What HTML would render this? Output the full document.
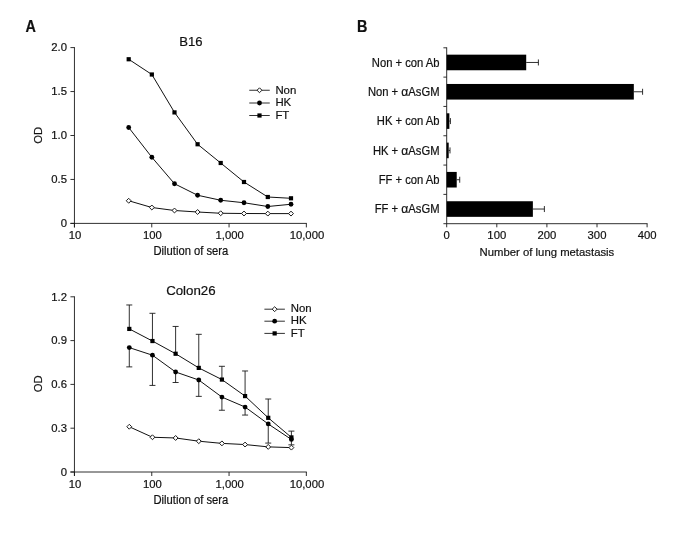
<!DOCTYPE html>
<html><head><meta charset="utf-8"><title>Figure</title>
<style>
html,body{margin:0;padding:0;background:#fff;}
svg{display:block;font-family:"Liberation Sans",sans-serif;fill:#111;}
text{stroke:#111;stroke-width:0.2px;}
</style></head><body>
<svg width="684" height="533" viewBox="0 0 684 533">
<rect width="684" height="533" fill="#fff"/>
<text x="25.40" y="31.70" font-size="16.4" text-anchor="start" font-weight="bold" textLength="10.4" lengthAdjust="spacingAndGlyphs">A</text>
<text x="357.10" y="31.70" font-size="16.4" text-anchor="start" font-weight="bold" textLength="10.4" lengthAdjust="spacingAndGlyphs">B</text>
<line x1="74.45" y1="47.15" x2="74.45" y2="227.40" stroke="#1a1a1a" stroke-width="0.9"/>
<line x1="70.45" y1="223.40" x2="306.80" y2="223.40" stroke="#1a1a1a" stroke-width="0.9"/>
<line x1="70.45" y1="223.40" x2="74.45" y2="223.40" stroke="#1a1a1a" stroke-width="0.9"/>
<text x="67.05" y="227.10" font-size="11.3" text-anchor="end" font-weight="normal" >0</text>
<line x1="70.45" y1="179.45" x2="74.45" y2="179.45" stroke="#1a1a1a" stroke-width="0.9"/>
<text x="67.05" y="183.15" font-size="11.3" text-anchor="end" font-weight="normal" >0.5</text>
<line x1="70.45" y1="135.50" x2="74.45" y2="135.50" stroke="#1a1a1a" stroke-width="0.9"/>
<text x="67.05" y="139.20" font-size="11.3" text-anchor="end" font-weight="normal" >1.0</text>
<line x1="70.45" y1="91.55" x2="74.45" y2="91.55" stroke="#1a1a1a" stroke-width="0.9"/>
<text x="67.05" y="95.25" font-size="11.3" text-anchor="end" font-weight="normal" >1.5</text>
<line x1="70.45" y1="47.60" x2="74.45" y2="47.60" stroke="#1a1a1a" stroke-width="0.9"/>
<text x="67.05" y="51.30" font-size="11.3" text-anchor="end" font-weight="normal" >2.0</text>
<line x1="74.45" y1="223.40" x2="74.45" y2="227.40" stroke="#1a1a1a" stroke-width="0.9"/>
<text x="75.05" y="238.70" font-size="11.3" text-anchor="middle" font-weight="normal" >10</text>
<line x1="151.75" y1="223.40" x2="151.75" y2="227.40" stroke="#1a1a1a" stroke-width="0.9"/>
<text x="152.35" y="238.70" font-size="11.3" text-anchor="middle" font-weight="normal" >100</text>
<line x1="229.05" y1="223.40" x2="229.05" y2="227.40" stroke="#1a1a1a" stroke-width="0.9"/>
<text x="229.65" y="238.70" font-size="11.3" text-anchor="middle" font-weight="normal" >1,000</text>
<line x1="306.35" y1="223.40" x2="306.35" y2="227.40" stroke="#1a1a1a" stroke-width="0.9"/>
<text x="306.95" y="238.70" font-size="11.3" text-anchor="middle" font-weight="normal" >10,000</text>
<polyline fill="none" stroke="#111" stroke-width="1.0" points="128.70,59.25 151.85,74.50 174.50,112.40 197.60,144.25 220.70,163.00 244.00,182.00 267.80,197.00 291.00,198.30"/>
<polyline fill="none" stroke="#111" stroke-width="1.0" points="128.70,127.50 151.85,157.25 174.50,183.75 197.60,195.25 220.70,200.25 244.00,202.75 267.80,206.50 291.00,204.25"/>
<polyline fill="none" stroke="#111" stroke-width="1.0" points="128.70,200.75 151.85,207.50 174.50,210.50 197.60,212.00 220.70,213.25 244.00,213.50 267.80,213.60 291.00,213.60"/>
<rect x="126.60" y="57.15" width="4.2" height="4.2" fill="#000"/>
<rect x="149.75" y="72.40" width="4.2" height="4.2" fill="#000"/>
<rect x="172.40" y="110.30" width="4.2" height="4.2" fill="#000"/>
<rect x="195.50" y="142.15" width="4.2" height="4.2" fill="#000"/>
<rect x="218.60" y="160.90" width="4.2" height="4.2" fill="#000"/>
<rect x="241.90" y="179.90" width="4.2" height="4.2" fill="#000"/>
<rect x="265.70" y="194.90" width="4.2" height="4.2" fill="#000"/>
<rect x="288.90" y="196.20" width="4.2" height="4.2" fill="#000"/>
<circle cx="128.70" cy="127.50" r="2.4" fill="#000"/>
<circle cx="151.85" cy="157.25" r="2.4" fill="#000"/>
<circle cx="174.50" cy="183.75" r="2.4" fill="#000"/>
<circle cx="197.60" cy="195.25" r="2.4" fill="#000"/>
<circle cx="220.70" cy="200.25" r="2.4" fill="#000"/>
<circle cx="244.00" cy="202.75" r="2.4" fill="#000"/>
<circle cx="267.80" cy="206.50" r="2.4" fill="#000"/>
<circle cx="291.00" cy="204.25" r="2.4" fill="#000"/>
<polygon points="126.25,200.75 128.70,198.30 131.15,200.75 128.70,203.20" fill="#fff" stroke="#1a1a1a" stroke-width="1.0" stroke-linejoin="round"/>
<polygon points="149.40,207.50 151.85,205.05 154.30,207.50 151.85,209.95" fill="#fff" stroke="#1a1a1a" stroke-width="1.0" stroke-linejoin="round"/>
<polygon points="172.05,210.50 174.50,208.05 176.95,210.50 174.50,212.95" fill="#fff" stroke="#1a1a1a" stroke-width="1.0" stroke-linejoin="round"/>
<polygon points="195.15,212.00 197.60,209.55 200.05,212.00 197.60,214.45" fill="#fff" stroke="#1a1a1a" stroke-width="1.0" stroke-linejoin="round"/>
<polygon points="218.25,213.25 220.70,210.80 223.15,213.25 220.70,215.70" fill="#fff" stroke="#1a1a1a" stroke-width="1.0" stroke-linejoin="round"/>
<polygon points="241.55,213.50 244.00,211.05 246.45,213.50 244.00,215.95" fill="#fff" stroke="#1a1a1a" stroke-width="1.0" stroke-linejoin="round"/>
<polygon points="265.35,213.60 267.80,211.15 270.25,213.60 267.80,216.05" fill="#fff" stroke="#1a1a1a" stroke-width="1.0" stroke-linejoin="round"/>
<polygon points="288.55,213.60 291.00,211.15 293.45,213.60 291.00,216.05" fill="#fff" stroke="#1a1a1a" stroke-width="1.0" stroke-linejoin="round"/>
<text x="190.90" y="46.00" font-size="13.1" text-anchor="middle" font-weight="normal" >B16</text>
<text transform="translate(190.90,255.10) scale(0.944,1)" font-size="11.9" text-anchor="middle">Dilution of sera</text>
<text transform="translate(41.55,135.35) rotate(-90)" font-size="11.3" text-anchor="middle">OD</text>
<line x1="249.25" y1="90.25" x2="269.75" y2="90.25" stroke="#1a1a1a" stroke-width="0.9"/>
<polygon points="257.05,90.25 259.50,87.80 261.95,90.25 259.50,92.70" fill="#fff" stroke="#1a1a1a" stroke-width="1.0" stroke-linejoin="round"/>
<text x="275.40" y="93.55" font-size="11.4" text-anchor="start" font-weight="normal" >Non</text>
<line x1="249.25" y1="103.00" x2="269.75" y2="103.00" stroke="#1a1a1a" stroke-width="0.9"/>
<circle cx="259.50" cy="103.00" r="2.4" fill="#000"/>
<text x="275.40" y="106.30" font-size="11.4" text-anchor="start" font-weight="normal" >HK</text>
<line x1="249.25" y1="115.50" x2="269.75" y2="115.50" stroke="#1a1a1a" stroke-width="0.9"/>
<rect x="257.40" y="113.40" width="4.2" height="4.2" fill="#000"/>
<text x="275.40" y="118.80" font-size="11.4" text-anchor="start" font-weight="normal" >FT</text>
<line x1="74.45" y1="296.35" x2="74.45" y2="476.00" stroke="#1a1a1a" stroke-width="0.9"/>
<line x1="70.45" y1="472.00" x2="306.80" y2="472.00" stroke="#1a1a1a" stroke-width="0.9"/>
<line x1="70.45" y1="472.00" x2="74.45" y2="472.00" stroke="#1a1a1a" stroke-width="0.9"/>
<text x="67.05" y="475.80" font-size="11.3" text-anchor="end" font-weight="normal" >0</text>
<line x1="70.45" y1="428.20" x2="74.45" y2="428.20" stroke="#1a1a1a" stroke-width="0.9"/>
<text x="67.05" y="432.00" font-size="11.3" text-anchor="end" font-weight="normal" >0.3</text>
<line x1="70.45" y1="384.40" x2="74.45" y2="384.40" stroke="#1a1a1a" stroke-width="0.9"/>
<text x="67.05" y="388.20" font-size="11.3" text-anchor="end" font-weight="normal" >0.6</text>
<line x1="70.45" y1="340.60" x2="74.45" y2="340.60" stroke="#1a1a1a" stroke-width="0.9"/>
<text x="67.05" y="344.40" font-size="11.3" text-anchor="end" font-weight="normal" >0.9</text>
<line x1="70.45" y1="296.80" x2="74.45" y2="296.80" stroke="#1a1a1a" stroke-width="0.9"/>
<text x="67.05" y="300.60" font-size="11.3" text-anchor="end" font-weight="normal" >1.2</text>
<line x1="74.45" y1="472.00" x2="74.45" y2="476.00" stroke="#1a1a1a" stroke-width="0.9"/>
<text x="75.05" y="487.70" font-size="11.3" text-anchor="middle" font-weight="normal" >10</text>
<line x1="151.75" y1="472.00" x2="151.75" y2="476.00" stroke="#1a1a1a" stroke-width="0.9"/>
<text x="152.35" y="487.70" font-size="11.3" text-anchor="middle" font-weight="normal" >100</text>
<line x1="229.05" y1="472.00" x2="229.05" y2="476.00" stroke="#1a1a1a" stroke-width="0.9"/>
<text x="229.65" y="487.70" font-size="11.3" text-anchor="middle" font-weight="normal" >1,000</text>
<line x1="306.35" y1="472.00" x2="306.35" y2="476.00" stroke="#1a1a1a" stroke-width="0.9"/>
<text x="306.95" y="487.70" font-size="11.3" text-anchor="middle" font-weight="normal" >10,000</text>
<line x1="129.29" y1="328.92" x2="129.29" y2="304.98" stroke="#1a1a1a" stroke-width="0.9"/>
<line x1="126.29" y1="304.98" x2="132.29" y2="304.98" stroke="#1a1a1a" stroke-width="0.9"/>
<line x1="152.45" y1="341.04" x2="152.45" y2="313.30" stroke="#1a1a1a" stroke-width="0.9"/>
<line x1="149.45" y1="313.30" x2="155.45" y2="313.30" stroke="#1a1a1a" stroke-width="0.9"/>
<line x1="175.61" y1="353.74" x2="175.61" y2="326.44" stroke="#1a1a1a" stroke-width="0.9"/>
<line x1="172.61" y1="326.44" x2="178.61" y2="326.44" stroke="#1a1a1a" stroke-width="0.9"/>
<line x1="198.77" y1="367.90" x2="198.77" y2="334.32" stroke="#1a1a1a" stroke-width="0.9"/>
<line x1="195.77" y1="334.32" x2="201.77" y2="334.32" stroke="#1a1a1a" stroke-width="0.9"/>
<line x1="221.92" y1="379.58" x2="221.92" y2="366.30" stroke="#1a1a1a" stroke-width="0.9"/>
<line x1="218.92" y1="366.30" x2="224.92" y2="366.30" stroke="#1a1a1a" stroke-width="0.9"/>
<line x1="245.08" y1="396.08" x2="245.08" y2="370.97" stroke="#1a1a1a" stroke-width="0.9"/>
<line x1="242.08" y1="370.97" x2="248.08" y2="370.97" stroke="#1a1a1a" stroke-width="0.9"/>
<line x1="268.24" y1="417.83" x2="268.24" y2="399.00" stroke="#1a1a1a" stroke-width="0.9"/>
<line x1="265.24" y1="399.00" x2="271.24" y2="399.00" stroke="#1a1a1a" stroke-width="0.9"/>
<line x1="291.40" y1="437.40" x2="291.40" y2="431.12" stroke="#1a1a1a" stroke-width="0.9"/>
<line x1="288.40" y1="431.12" x2="294.40" y2="431.12" stroke="#1a1a1a" stroke-width="0.9"/>
<line x1="129.29" y1="347.61" x2="129.29" y2="366.88" stroke="#1a1a1a" stroke-width="0.9"/>
<line x1="126.29" y1="366.88" x2="132.29" y2="366.88" stroke="#1a1a1a" stroke-width="0.9"/>
<line x1="152.45" y1="355.20" x2="152.45" y2="385.42" stroke="#1a1a1a" stroke-width="0.9"/>
<line x1="149.45" y1="385.42" x2="155.45" y2="385.42" stroke="#1a1a1a" stroke-width="0.9"/>
<line x1="175.61" y1="371.99" x2="175.61" y2="382.50" stroke="#1a1a1a" stroke-width="0.9"/>
<line x1="172.61" y1="382.50" x2="178.61" y2="382.50" stroke="#1a1a1a" stroke-width="0.9"/>
<line x1="198.77" y1="380.02" x2="198.77" y2="396.37" stroke="#1a1a1a" stroke-width="0.9"/>
<line x1="195.77" y1="396.37" x2="201.77" y2="396.37" stroke="#1a1a1a" stroke-width="0.9"/>
<line x1="221.92" y1="397.10" x2="221.92" y2="410.24" stroke="#1a1a1a" stroke-width="0.9"/>
<line x1="218.92" y1="410.24" x2="224.92" y2="410.24" stroke="#1a1a1a" stroke-width="0.9"/>
<line x1="245.08" y1="407.03" x2="245.08" y2="415.06" stroke="#1a1a1a" stroke-width="0.9"/>
<line x1="242.08" y1="415.06" x2="248.08" y2="415.06" stroke="#1a1a1a" stroke-width="0.9"/>
<line x1="268.24" y1="423.97" x2="268.24" y2="443.09" stroke="#1a1a1a" stroke-width="0.9"/>
<line x1="265.24" y1="443.09" x2="271.24" y2="443.09" stroke="#1a1a1a" stroke-width="0.9"/>
<line x1="291.40" y1="439.44" x2="291.40" y2="444.84" stroke="#1a1a1a" stroke-width="0.9"/>
<line x1="288.40" y1="444.84" x2="294.40" y2="444.84" stroke="#1a1a1a" stroke-width="0.9"/>
<polyline fill="none" stroke="#111" stroke-width="1.0" points="129.29,328.92 152.45,341.04 175.61,353.74 198.77,367.90 221.92,379.58 245.08,396.08 268.24,417.83 291.40,437.40"/>
<polyline fill="none" stroke="#111" stroke-width="1.0" points="129.29,347.61 152.45,355.20 175.61,371.99 198.77,380.02 221.92,397.10 245.08,407.03 268.24,423.97 291.40,439.44"/>
<polyline fill="none" stroke="#111" stroke-width="1.0" points="129.29,426.74 152.45,437.25 175.61,437.98 198.77,441.19 221.92,443.38 245.08,444.55 268.24,446.89 291.40,447.62"/>
<rect x="127.19" y="326.82" width="4.2" height="4.2" fill="#000"/>
<rect x="150.35" y="338.94" width="4.2" height="4.2" fill="#000"/>
<rect x="173.51" y="351.64" width="4.2" height="4.2" fill="#000"/>
<rect x="196.67" y="365.80" width="4.2" height="4.2" fill="#000"/>
<rect x="219.82" y="377.48" width="4.2" height="4.2" fill="#000"/>
<rect x="242.98" y="393.98" width="4.2" height="4.2" fill="#000"/>
<rect x="266.14" y="415.73" width="4.2" height="4.2" fill="#000"/>
<rect x="289.30" y="435.30" width="4.2" height="4.2" fill="#000"/>
<circle cx="129.29" cy="347.61" r="2.4" fill="#000"/>
<circle cx="152.45" cy="355.20" r="2.4" fill="#000"/>
<circle cx="175.61" cy="371.99" r="2.4" fill="#000"/>
<circle cx="198.77" cy="380.02" r="2.4" fill="#000"/>
<circle cx="221.92" cy="397.10" r="2.4" fill="#000"/>
<circle cx="245.08" cy="407.03" r="2.4" fill="#000"/>
<circle cx="268.24" cy="423.97" r="2.4" fill="#000"/>
<circle cx="291.40" cy="439.44" r="2.4" fill="#000"/>
<polygon points="126.84,426.74 129.29,424.29 131.74,426.74 129.29,429.19" fill="#fff" stroke="#1a1a1a" stroke-width="1.0" stroke-linejoin="round"/>
<polygon points="150.00,437.25 152.45,434.80 154.90,437.25 152.45,439.70" fill="#fff" stroke="#1a1a1a" stroke-width="1.0" stroke-linejoin="round"/>
<polygon points="173.16,437.98 175.61,435.53 178.06,437.98 175.61,440.43" fill="#fff" stroke="#1a1a1a" stroke-width="1.0" stroke-linejoin="round"/>
<polygon points="196.32,441.19 198.77,438.74 201.22,441.19 198.77,443.64" fill="#fff" stroke="#1a1a1a" stroke-width="1.0" stroke-linejoin="round"/>
<polygon points="219.47,443.38 221.92,440.93 224.37,443.38 221.92,445.83" fill="#fff" stroke="#1a1a1a" stroke-width="1.0" stroke-linejoin="round"/>
<polygon points="242.63,444.55 245.08,442.10 247.53,444.55 245.08,447.00" fill="#fff" stroke="#1a1a1a" stroke-width="1.0" stroke-linejoin="round"/>
<polygon points="265.79,446.89 268.24,444.44 270.69,446.89 268.24,449.34" fill="#fff" stroke="#1a1a1a" stroke-width="1.0" stroke-linejoin="round"/>
<polygon points="288.95,447.62 291.40,445.17 293.85,447.62 291.40,450.07" fill="#fff" stroke="#1a1a1a" stroke-width="1.0" stroke-linejoin="round"/>
<text x="190.90" y="295.00" font-size="13.3" text-anchor="middle" font-weight="normal" >Colon26</text>
<text transform="translate(190.90,504.40) scale(0.944,1)" font-size="11.9" text-anchor="middle">Dilution of sera</text>
<text transform="translate(41.55,383.7) rotate(-90)" font-size="11.3" text-anchor="middle">OD</text>
<line x1="264.40" y1="309.20" x2="284.90" y2="309.20" stroke="#1a1a1a" stroke-width="0.9"/>
<polygon points="272.20,309.20 274.65,306.75 277.10,309.20 274.65,311.65" fill="#fff" stroke="#1a1a1a" stroke-width="1.0" stroke-linejoin="round"/>
<text x="290.70" y="312.40" font-size="11.4" text-anchor="start" font-weight="normal" >Non</text>
<line x1="264.40" y1="321.20" x2="284.90" y2="321.20" stroke="#1a1a1a" stroke-width="0.9"/>
<circle cx="274.65" cy="321.20" r="2.4" fill="#000"/>
<text x="290.70" y="324.40" font-size="11.4" text-anchor="start" font-weight="normal" >HK</text>
<line x1="264.40" y1="333.40" x2="284.90" y2="333.40" stroke="#1a1a1a" stroke-width="0.9"/>
<rect x="272.55" y="331.30" width="4.2" height="4.2" fill="#000"/>
<text x="290.70" y="336.60" font-size="11.4" text-anchor="start" font-weight="normal" >FT</text>
<line x1="446.70" y1="47.35" x2="446.70" y2="223.70" stroke="#1a1a1a" stroke-width="0.9"/>
<line x1="443.40" y1="223.70" x2="647.55" y2="223.70" stroke="#1a1a1a" stroke-width="0.9"/>
<line x1="443.40" y1="47.80" x2="446.70" y2="47.80" stroke="#1a1a1a" stroke-width="0.9"/>
<line x1="443.40" y1="77.12" x2="446.70" y2="77.12" stroke="#1a1a1a" stroke-width="0.9"/>
<line x1="443.40" y1="106.43" x2="446.70" y2="106.43" stroke="#1a1a1a" stroke-width="0.9"/>
<line x1="443.40" y1="135.75" x2="446.70" y2="135.75" stroke="#1a1a1a" stroke-width="0.9"/>
<line x1="443.40" y1="165.07" x2="446.70" y2="165.07" stroke="#1a1a1a" stroke-width="0.9"/>
<line x1="443.40" y1="194.38" x2="446.70" y2="194.38" stroke="#1a1a1a" stroke-width="0.9"/>
<line x1="446.70" y1="223.70" x2="446.70" y2="227.30" stroke="#1a1a1a" stroke-width="0.9"/>
<text x="446.70" y="239.40" font-size="11.3" text-anchor="middle" font-weight="normal" >0</text>
<line x1="496.80" y1="223.70" x2="496.80" y2="227.30" stroke="#1a1a1a" stroke-width="0.9"/>
<text x="496.80" y="239.40" font-size="11.3" text-anchor="middle" font-weight="normal" >100</text>
<line x1="546.90" y1="223.70" x2="546.90" y2="227.30" stroke="#1a1a1a" stroke-width="0.9"/>
<text x="546.90" y="239.40" font-size="11.3" text-anchor="middle" font-weight="normal" >200</text>
<line x1="597.00" y1="223.70" x2="597.00" y2="227.30" stroke="#1a1a1a" stroke-width="0.9"/>
<text x="597.00" y="239.40" font-size="11.3" text-anchor="middle" font-weight="normal" >300</text>
<line x1="647.10" y1="223.70" x2="647.10" y2="227.30" stroke="#1a1a1a" stroke-width="0.9"/>
<text x="647.10" y="239.40" font-size="11.3" text-anchor="middle" font-weight="normal" >400</text>
<line x1="526.21" y1="62.46" x2="538.38" y2="62.46" stroke="#1a1a1a" stroke-width="0.9"/>
<line x1="538.38" y1="59.46" x2="538.38" y2="65.46" stroke="#1a1a1a" stroke-width="0.9"/>
<rect x="446.70" y="54.66" width="79.51" height="15.6" fill="#000"/>
<text transform="translate(439.50,66.86) scale(0.944,1)" font-size="11.9" text-anchor="end">Non + con Ab</text>
<line x1="633.82" y1="91.77" x2="642.59" y2="91.77" stroke="#1a1a1a" stroke-width="0.9"/>
<line x1="642.59" y1="88.77" x2="642.59" y2="94.77" stroke="#1a1a1a" stroke-width="0.9"/>
<rect x="446.70" y="83.97" width="187.12" height="15.6" fill="#000"/>
<text transform="translate(439.50,96.17) scale(0.944,1)" font-size="11.9" text-anchor="end">Non + <tspan font-size="12.9">α</tspan>AsGM</text>
<line x1="449.36" y1="121.09" x2="450.41" y2="121.09" stroke="#1a1a1a" stroke-width="0.9"/>
<line x1="450.41" y1="118.09" x2="450.41" y2="124.09" stroke="#1a1a1a" stroke-width="0.9"/>
<rect x="446.70" y="113.29" width="2.66" height="15.6" fill="#000"/>
<text transform="translate(439.50,125.49) scale(0.944,1)" font-size="11.9" text-anchor="end">HK + con Ab</text>
<line x1="448.70" y1="150.41" x2="450.01" y2="150.41" stroke="#1a1a1a" stroke-width="0.9"/>
<line x1="450.01" y1="147.41" x2="450.01" y2="153.41" stroke="#1a1a1a" stroke-width="0.9"/>
<rect x="446.70" y="142.61" width="2.00" height="15.6" fill="#000"/>
<text transform="translate(439.50,154.81) scale(0.944,1)" font-size="11.9" text-anchor="end">HK + <tspan font-size="12.9">α</tspan>AsGM</text>
<line x1="456.72" y1="179.72" x2="459.73" y2="179.72" stroke="#1a1a1a" stroke-width="0.9"/>
<line x1="459.73" y1="176.72" x2="459.73" y2="182.72" stroke="#1a1a1a" stroke-width="0.9"/>
<rect x="446.70" y="171.92" width="10.02" height="15.6" fill="#000"/>
<text transform="translate(439.50,184.12) scale(0.944,1)" font-size="11.9" text-anchor="end">FF + con Ab</text>
<line x1="532.87" y1="209.04" x2="544.39" y2="209.04" stroke="#1a1a1a" stroke-width="0.9"/>
<line x1="544.39" y1="206.04" x2="544.39" y2="212.04" stroke="#1a1a1a" stroke-width="0.9"/>
<rect x="446.70" y="201.24" width="86.17" height="15.6" fill="#000"/>
<text transform="translate(439.50,213.44) scale(0.944,1)" font-size="11.9" text-anchor="end">FF + <tspan font-size="12.9">α</tspan>AsGM</text>
<text transform="translate(546.90,255.70) scale(0.961,1)" font-size="11.8" text-anchor="middle">Number of lung metastasis</text>
</svg>
</body></html>
